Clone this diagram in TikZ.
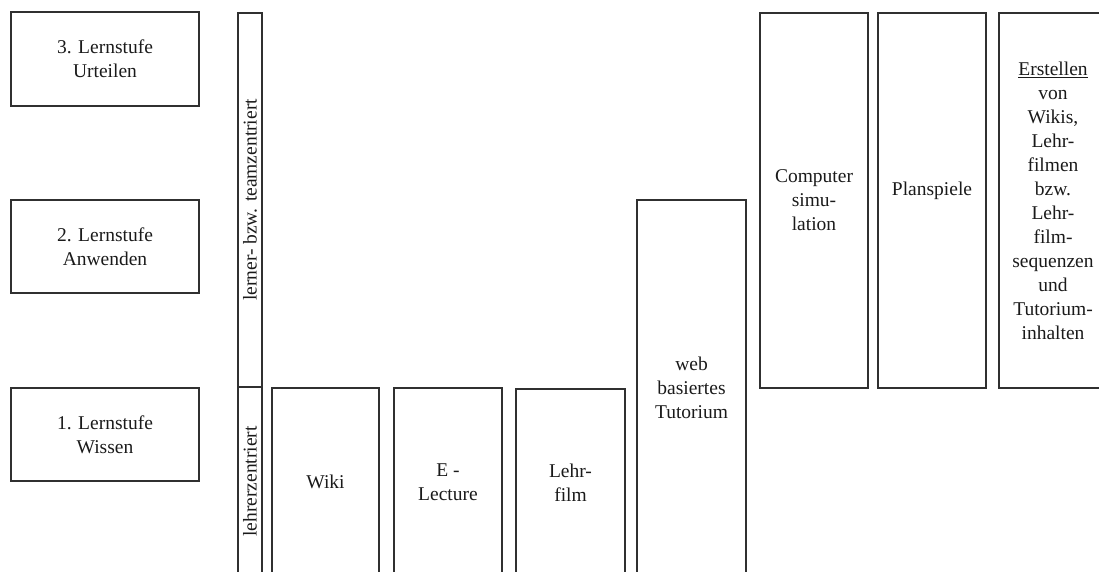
\documentclass[tikz,border=0pt]{standalone}
\usepackage{fontspec}
\setmainfont{Liberation Serif}
\definecolor{edge}{HTML}{303030}
\definecolor{ink}{HTML}{1A1A1A}
\begin{document}
\begin{tikzpicture}[x=1pt,y=-1pt,
  box/.style={draw=edge, line width=1.3pt, inner sep=0pt, align=center,
    text=ink, font=\fontsize{19.5}{24}\selectfont},
  lbox/.style={box, minimum width=188pt, minimum height=93pt},
  bar/.style={box, minimum width=24pt},
  col/.style={box, minimum width=108pt},
  vlab/.style={rotate=90, text=ink, font=\fontsize{19.5}{24}\selectfont, inner sep=0pt}
]
\useasboundingbox (0,0) rectangle (1099,571);
\clip (0,0) rectangle (1099,571);
% level boxes
\node[lbox, minimum height=94pt] (l3) at (105,59) {3. Lernstufe\\Urteilen};
\node[lbox] (l2) at (105,246.5) {2. Lernstufe\\Anwenden};
\node[lbox] (l1) at (105,434.5) {1. Lernstufe\\Wissen};
% vertical bar
\node[bar, minimum height=374pt, label={[vlab, name=tteam]center:lerner- bzw. teamzentriert}] (barup) at (250,200) {};
\node[bar, minimum height=189pt, label={[vlab, name=tlehr]center:lehrerzentriert}] (barlo) at (250,481.5) {};
% columns
\node[col, minimum width=107pt, minimum height=188pt] (wiki) at (325.5,482) {Wiki};
\node[col, minimum height=188pt] (elec) at (448,482) {E -\\Lecture};
\node[col, minimum width=109pt, minimum height=188pt] (lfilm) at (570.5,483) {Lehr-\\film};
\node[col, minimum width=109pt, minimum height=376pt] (web) at (691.5,388) {web\\basiertes\\Tutorium};
\node[col, minimum height=375pt] (comp) at (814,200.5) {Computer\\simu-\\lation};
\node[col, minimum height=375pt, label={[box, draw=none, yshift=10pt, name=tplan]center:Planspiele}] (plan) at (932,200.5) {};
\node[col, minimum height=375pt] (erst) at (1053,200.5) {\underline{Erstellen}\\von\\Wikis,\\Lehr-\\filmen\\bzw.\\Lehr-\\film-\\sequenzen\\und\\Tutorium-\\inhalten};
\end{tikzpicture}
\end{document}
